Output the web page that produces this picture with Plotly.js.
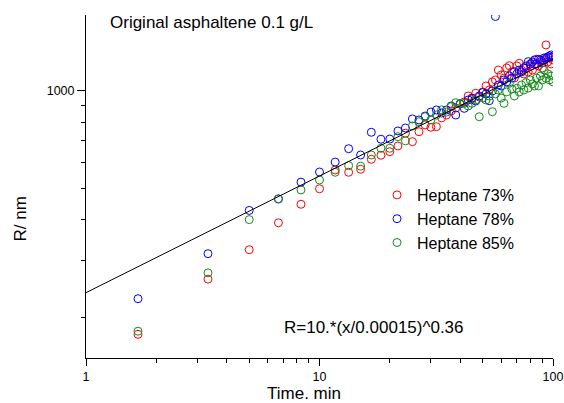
<!DOCTYPE html>
<html>
<head>
<meta charset="utf-8">
<script src="https://cdn.plot.ly/plotly-3.0.1.min.js"></script>
<style>html,body{margin:0;padding:0;background:#fff;}#chart{width:564px;height:403px;}</style>
</head>
<body>
<div id="chart"></div>
<script>
// Time (min)
var time = [1.67,3.33,5,6.67,8.33,10,11.67,13.33,15,16.67,18.33,20,21.67,23.33,25,26.67,28.33,30,31.67,33.33,35,36.67,38.33,40,41.67,43.33,45,46.67,48.33,50,51.67,53.33,55,56.67,58.33,60,61.67,63.33,65,66.67,68.33,70,71.67,73.33,75,76.67,78.33,80,81.67,83.33,85,86.67,88.33,90,91.67,93.33,95,96.67,98.33,100];

// R (nm) for each heptane fraction
var heptane73 = [177,262,323,391,446,498,569,560,572,614,632,648,675,739,696,747,784,771,774,824,841,866,884,910,923,963,943,982,956,991,1034,1005,1064,1079,1158,1118,1094,1175,1194,1142,1094,1192,1215,1158,1126,1175,1142,1192,1158,1209,1250,1192,1226,1175,1244,1384,1226,1262,1209,1244];
var heptane78 = [228,314,427,463,522,561,602,662,633,744,708,709,751,767,818,812,835,859,872,853,872,897,841,910,882,936,949,929,963,986,977,931,998,1694,1041,1034,1079,1064,1110,1094,1145,1126,1158,1142,1175,1192,1229,1209,1226,1244,1209,1250,1244,1218,1262,1259,1271,1280,1289,1271];
var heptane85 = [181,274,400,464,494,530,560,587,585,633,664,664,721,700,778,802,831,812,841,872,859,893,918,910,914,897,914,936,831,949,936,963,861,977,1005,949,914,991,1054,1012,963,1017,991,1041,1005,1059,1019,1079,1049,1034,1094,1034,1110,1079,1158,1092,1126,1079,1110,1064];

// Fit line R = 10*(x/0.00015)^0.36, end points
var fitX = [1, 100];
var fitY = [238, 1249];

var seriesNames = ['Heptane 73%', 'Heptane 78%', 'Heptane 85%'];
var seriesColors = ['#ff0000', '#0000ff', '#16891a'];

var xTickVals = [1, 10, 100];
var xTickText = ['1', '10', '100'];
var xMinorVals = [2,3,4,5,6,7,8,9,20,30,40,50,60,70,80,90];
var yTickVals = [1000];
var yTickText = ['1000'];
var yMinorVals = [200,300,400,500,600,700,800,900];

var FONT = 'Liberation Sans, Arial, Helvetica, sans-serif';

var seriesData = [heptane73, heptane78, heptane85];
var traces = seriesData.map(function (vals, i) {
  return {
    x: time, y: vals, type: 'scatter', mode: 'markers', name: seriesNames[i],
    marker: {symbol: 'circle-open', size: 8, color: seriesColors[i], line: {width: 1, color: seriesColors[i]}}
  };
});
traces.push({
  x: fitX, y: fitY, type: 'scatter', mode: 'lines', showlegend: false, hoverinfo: 'skip',
  line: {color: '#000', width: 1}
});

function px2paperX(px) { return (px - 86) / 467; }
function px2paperY(py) { return (358 - py) / 343; }

var layout = {
  width: 564, height: 403,
  margin: {l: 86, r: 11, t: 15, b: 45, pad: 0},
  paper_bgcolor: '#fff', plot_bgcolor: '#fff',
  font: {family: FONT, color: '#000', size: 12.5},
  showlegend: true,
  legend: {
    x: px2paperX(377), xanchor: 'left', y: px2paperY(178), yanchor: 'top',
    bgcolor: 'rgba(0,0,0,0)', borderwidth: 0,
    font: {family: FONT, size: 16, color: '#000'}
  },
  xaxis: {
    type: 'log', range: [0, 2], showgrid: false, zeroline: false,
    showline: true, linecolor: '#000', linewidth: 1,
    ticks: 'outside', ticklen: 7, tickwidth: 1, tickcolor: '#000',
    tickmode: 'array', tickvals: xTickVals, ticktext: xTickText,
    tickfont: {family: FONT, size: 12.5, color: '#000'},
    minor: {tickmode: 'array', tickvals: xMinorVals, ticks: 'outside', ticklen: 4, tickwidth: 1, tickcolor: '#000', showgrid: false}
  },
  yaxis: {
    type: 'log', range: [Math.log10(149.6), Math.log10(1712)], showgrid: false, zeroline: false,
    showline: true, linecolor: '#000', linewidth: 1,
    ticks: 'outside', ticklen: 8, tickwidth: 1, tickcolor: '#000',
    tickmode: 'array', tickvals: yTickVals, ticktext: yTickText,
    tickfont: {family: FONT, size: 12.5, color: '#000'},
    minor: {tickmode: 'array', tickvals: yMinorVals, ticks: 'outside', ticklen: 4.5, tickwidth: 1, tickcolor: '#000', showgrid: false}
  },
  annotations: [
    {text: 'Original asphaltene 0.1 g/L', xref: 'paper', yref: 'paper', x: px2paperX(108), y: px2paperY(22),
     xanchor: 'left', yanchor: 'middle', showarrow: false, font: {family: FONT, size: 17, color: '#000'}},
    {text: 'R=10.*(x/0.00015)^0.36', xref: 'paper', yref: 'paper', x: px2paperX(281.5), y: px2paperY(327.5),
     xanchor: 'left', yanchor: 'middle', showarrow: false, font: {family: FONT, size: 17, color: '#000'}},
    {text: 'Time. min', xref: 'paper', yref: 'paper', x: px2paperX(303.7), y: px2paperY(393.5),
     xanchor: 'center', yanchor: 'middle', showarrow: false, font: {family: FONT, size: 17, color: '#000'}},
    {text: 'R/ nm', xref: 'paper', yref: 'paper', x: px2paperX(19.5), y: px2paperY(219), textangle: -90,
     xanchor: 'center', yanchor: 'middle', showarrow: false, font: {family: FONT, size: 17, color: '#000'}}
  ]
};

Plotly.newPlot('chart', traces, layout, {displayModeBar: false, staticPlot: true});
</script>
</body>
</html>
